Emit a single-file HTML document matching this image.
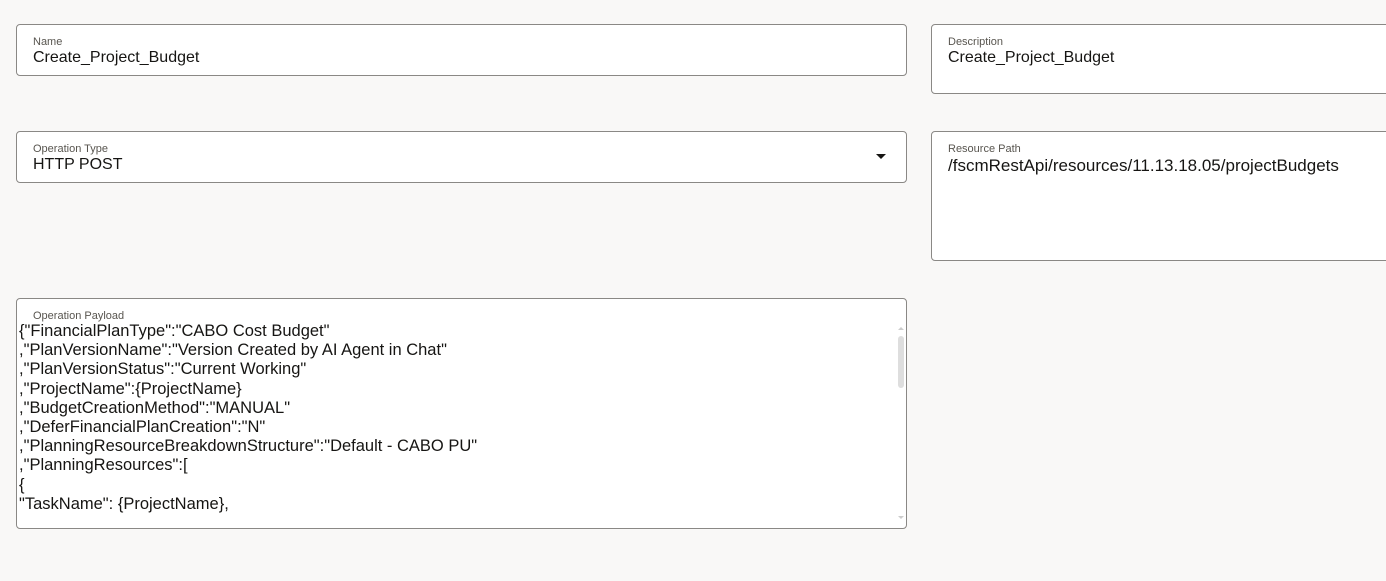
<!DOCTYPE html>
<html><head><meta charset="utf-8"><style>
html,body{margin:0;padding:0;background:#f9f8f7;width:1386px;height:581px;overflow:hidden;font-family:"Liberation Sans",sans-serif;color:#161513;}
.box{position:absolute;background:#fff;border:1px solid #8a8885;border-radius:4px;box-sizing:border-box;}
.lbl{position:absolute;left:16px;top:11px;font-size:11px;color:#58554f;}
.val{position:absolute;left:16px;top:24px;font-size:16px;white-space:pre;}
.pl{position:absolute;left:2px;top:23px;font-size:16.5px;line-height:19.2px;white-space:pre;}
</style></head><body>
<div class="box" style="left:16px;top:24px;width:891px;height:52px"><div class="lbl">Name</div><div class="val">Create_Project_Budget</div></div>
<div class="box" style="left:931px;top:24px;width:470px;height:70px"><div class="lbl">Description</div><div class="val">Create_Project_Budget</div></div>
<div class="box" style="left:16px;top:131px;width:891px;height:52px"><div class="lbl">Operation Type</div><div class="val">HTTP POST</div>
<div style="position:absolute;left:859px;top:22px;width:0;height:0;border-left:5px solid transparent;border-right:5px solid transparent;border-top:5px solid #161513"></div></div>
<div class="box" style="left:931px;top:131px;width:470px;height:130px"><div class="lbl">Resource Path</div><div class="val" style="font-size:17px">/fscmRestApi/resources/11.13.18.05/projectBudgets</div></div>
<div class="box" style="left:16px;top:298px;width:891px;height:231px;overflow:hidden"><div class="lbl">Operation Payload</div>
<div class="pl">{"FinancialPlanType":"CABO Cost Budget"
,"PlanVersionName":"Version Created by AI Agent in Chat"
,"PlanVersionStatus":"Current Working"
,"ProjectName":{ProjectName}
,"BudgetCreationMethod":"MANUAL"
,"DeferFinancialPlanCreation":"N"
,"PlanningResourceBreakdownStructure":"Default - CABO PU"
,"PlanningResources":[
{
"TaskName": {ProjectName},</div>
<div style="position:absolute;left:881px;top:37px;width:6px;height:52px;background:#dedede;border-radius:3px"></div>
<div style="position:absolute;left:881px;top:28px;width:0;height:0;border-left:3px solid transparent;border-right:3px solid transparent;border-bottom:3px solid #ccc"></div>
<div style="position:absolute;left:881px;top:217px;width:0;height:0;border-left:3px solid transparent;border-right:3px solid transparent;border-top:3px solid #ccc"></div>
</div>
</body></html>
